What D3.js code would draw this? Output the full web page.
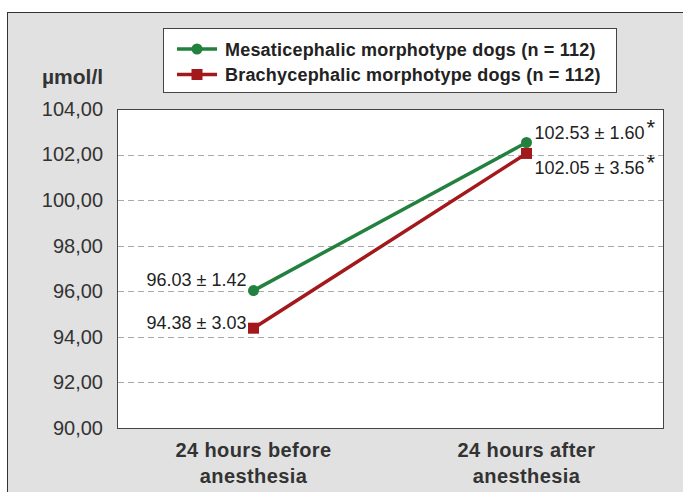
<!DOCTYPE html>
<html><head><meta charset="utf-8">
<script src="https://cdn.jsdelivr.net/npm/d3@7"></script>
<style>body{margin:0;background:#fff}svg{display:block}text{font-family:"Liberation Sans",Arial,sans-serif}</style>
</head><body>
<script>
const categories = ["24 hours before|anesthesia", "24 hours after|anesthesia"];
const mesaticephalic = [96.03, 102.53];
const brachycephalic = [94.38, 102.05];
const mesaLabels = ["96.03 ± 1.42", "102.53 ± 1.60"];
const brachyLabels = ["94.38 ± 3.03", "102.05 ± 3.56"];
const yTicks = [90, 92, 94, 96, 98, 100, 102, 104];
const seriesNames = ["Mesaticephalic morphotype dogs (n = 112)", "Brachycephalic morphotype dogs (n = 112)"];

const W = 683, H = 492;
const svg = d3.select("body").append("svg").attr("width", W).attr("height", H);
svg.append("rect").attr("x", 7.5).attr("y", 12.5).attr("width", 700).attr("height", 500)
  .attr("fill", "#e1e1e1").attr("stroke", "#333").attr("stroke-width", 1);

const m = {l: 117, r: 663, t: 109, b: 428};
const x = d3.scalePoint().domain(categories).range([m.l, m.r]).padding(0.5);
const y = d3.scaleLinear().domain([90, 104]).range([m.b, m.t]);

svg.append("rect").attr("x", m.l + 0.5).attr("y", m.t + 0.5).attr("width", m.r - m.l).attr("height", m.b - m.t)
  .attr("fill", "#fff").attr("stroke", "#444").attr("stroke-width", 1);

svg.append("g").selectAll("line").data(yTicks.filter(d => d > 90 && d < 104)).join("line")
  .attr("x1", m.l + 1).attr("x2", m.r).attr("y1", d => Math.round(y(d)) + 0.5).attr("y2", d => Math.round(y(d)) + 0.5)
  .attr("stroke", "#aaa").attr("stroke-width", 1).attr("stroke-dasharray", "6,4");

const yAxis = d3.axisLeft(y).tickValues(yTicks).tickSize(0).tickPadding(14)
  .tickFormat(d => d3.format(".2f")(d).replace(".", ","));
const ga = svg.append("g").attr("transform", `translate(${m.l},0)`).call(yAxis);
ga.select(".domain").remove();
ga.selectAll("text").attr("font-size", 20).attr("fill", "#333").attr("font-family", "Liberation Sans, Arial, sans-serif");

svg.append("text").attr("x", 42).attr("y", 84).attr("font-size", 21).attr("font-weight", "bold").attr("fill", "#333").text("µmol/l");

const gx = svg.append("g");
categories.forEach(c => {
  const parts = c.split("|");
  const t = gx.append("text").attr("text-anchor", "middle").attr("font-size", 20).attr("font-weight", "bold")
    .attr("letter-spacing", 0.4).attr("fill", "#333");
  parts.forEach((p, i) => t.append("tspan").attr("x", x(c)).attr("y", 457 + i * 26).text(p));
});

const green = "#23813f", red = "#a3181a";
const line = d3.line().x((d, i) => x(categories[i])).y(d => y(d));
svg.append("path").datum(mesaticephalic).attr("d", line).attr("fill", "none").attr("stroke", green).attr("stroke-width", 3.5);
svg.append("path").datum(brachycephalic).attr("d", line).attr("fill", "none").attr("stroke", red).attr("stroke-width", 3.5);
svg.selectAll("circle.m").data(mesaticephalic).join("circle").attr("cx", (d, i) => x(categories[i])).attr("cy", d => y(d)).attr("r", 5.5).attr("fill", green);
svg.selectAll("rect.b").data(brachycephalic).join("rect").attr("x", (d, i) => x(categories[i]) - 5.5).attr("y", d => y(d) - 5.5).attr("width", 11).attr("height", 11).attr("fill", red);

const lab = svg.append("g").attr("font-size", 18).attr("fill", "#222");
lab.append("text").attr("x", x(categories[0]) - 7).attr("y", y(mesaticephalic[0]) - 5).attr("text-anchor", "end").text(mesaLabels[0]);
lab.append("text").attr("x", x(categories[0]) - 7).attr("y", y(brachycephalic[0]) + 1).attr("text-anchor", "end").text(brachyLabels[0]);
function starText(txt, xx, yy) {
  const t = lab.append("text").attr("x", xx).attr("y", yy).text(txt);
  t.append("tspan").attr("dy", -4).attr("dx", 2).attr("font-size", 22).text("*");
}
starText(mesaLabels[1], x(categories[1]) + 8, y(mesaticephalic[1]) - 3);
starText(brachyLabels[1], x(categories[1]) + 8, y(brachycephalic[1]) + 21);

const lg = svg.append("g");
lg.append("rect").attr("x", 163.5).attr("y", 28.5).attr("width", 453).attr("height", 64).attr("fill", "#fff").attr("stroke", "#444");
[[green, "c"], [red, "s"]].forEach(([col, shp], i) => {
  const yy = 49 + i * 25.5;
  lg.append("line").attr("x1", 177).attr("x2", 217).attr("y1", yy).attr("y2", yy).attr("stroke", col).attr("stroke-width", 3.5);
  if (shp === "c") lg.append("circle").attr("cx", 197).attr("cy", yy).attr("r", 5.5).attr("fill", col);
  else lg.append("rect").attr("x", 191.5).attr("y", yy - 5.5).attr("width", 11).attr("height", 11).attr("fill", col);
  lg.append("text").attr("x", 225).attr("y", yy + 6.5).attr("font-size", 18).attr("letter-spacing", 0.2)
    .attr("font-weight", "bold").attr("fill", "#222").text(seriesNames[i]);
});
</script>
</body></html>
